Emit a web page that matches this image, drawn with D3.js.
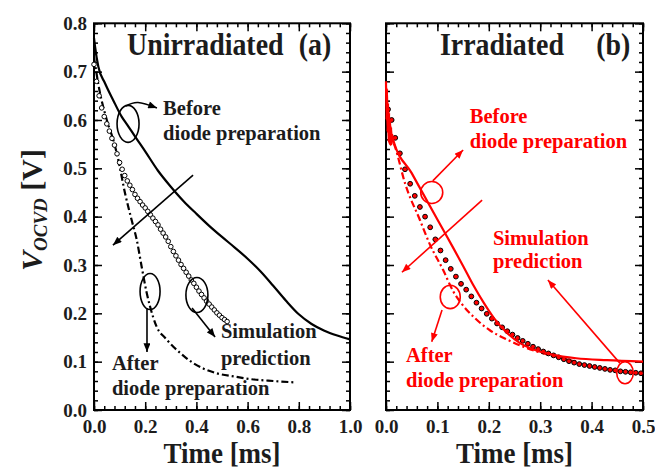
<!DOCTYPE html>
<html>
<head>
<meta charset="utf-8">
<script src="https://cdn.jsdelivr.net/npm/d3@7"></script>
<style>
  body { margin: 0; background: #fff; }
  text { font-family: "Liberation Serif", "Times New Roman", serif; font-weight: bold; }
</style>
</head>
<body>
<svg id="chart" width="655" height="470"></svg>
<script>
// ---------- data: panel (a), unirradiated ----------
const beforeA = [[0,0.77],[0.004,0.752],[0.017,0.71],[0.043,0.676],[0.075,0.641],[0.108,0.607],
  [0.13,0.59],[0.16,0.566],[0.2,0.535],[0.25,0.495],[0.3,0.462],[0.35,0.432],[0.4,0.406],
  [0.45,0.381],[0.5,0.358],[0.55,0.336],[0.6,0.313],[0.65,0.287],[0.7,0.257],[0.75,0.226],
  [0.8,0.198],[0.85,0.178],[0.9,0.164],[0.95,0.154],[1.0,0.146]];

const afterA = [[0,0.73],[0.02,0.665],[0.05,0.6],[0.08,0.55],[0.095,0.517],[0.121,0.449],
  [0.147,0.393],[0.167,0.352],[0.186,0.297],[0.206,0.242],[0.219,0.214],[0.245,0.172],
  [0.28,0.148],[0.31,0.131],[0.35,0.112],[0.388,0.097],[0.43,0.085],[0.479,0.076],
  [0.55,0.069],[0.61,0.064],[0.7,0.06],[0.79,0.057]];

const simA_t = [0.00,0.01,0.02,0.03,0.04,0.05,0.06,0.07,0.08,0.09,0.10,0.11,0.12,0.13,0.14,
  0.15,0.16,0.17,0.18,0.19,0.20,0.21,0.22,0.23,0.24,0.25,0.26,0.27,0.28,0.29,0.30,0.31,0.32,
  0.33,0.34,0.35,0.36,0.37,0.38,0.39,0.40,0.41,0.42,0.43,0.44,0.45,0.46,0.47,0.48,0.49,0.50,
  0.51,0.52];
const simA_v = [0.715,0.68,0.65,0.625,0.607,0.592,0.577,0.562,0.548,0.530,0.512,0.498,0.485,
  0.474,0.465,0.456,0.446,0.438,0.431,0.424,0.418,0.411,0.404,0.397,0.390,0.383,0.374,0.366,
  0.358,0.349,0.338,0.328,0.319,0.310,0.301,0.293,0.285,0.277,0.269,0.262,0.254,0.246,0.239,
  0.232,0.225,0.219,0.213,0.207,0.201,0.196,0.191,0.187,0.183];

// ---------- data: panel (b), irradiated ----------
const beforeB = [[0,0.68],[0.001,0.60],[0.002,0.665],[0.003,0.575],[0.004,0.635],[0.005,0.555],
  [0.006,0.615],[0.007,0.55],[0.008,0.60],[0.009,0.548],[0.010,0.585],[0.011,0.55],[0.012,0.57],
  [0.014,0.559],[0.05,0.49],[0.1,0.394],[0.13,0.337],[0.15,0.298],[0.17,0.258],[0.19,0.222],
  [0.21,0.19],[0.235,0.16],[0.26,0.139],[0.29,0.124],[0.325,0.114],[0.37,0.107],[0.43,0.103],
  [0.5,0.100]];

const afterB = [[0.004,0.58],[0.0175,0.545],[0.037,0.469],[0.066,0.393],[0.086,0.341],
  [0.111,0.29],[0.131,0.245],[0.147,0.22],[0.173,0.19],[0.202,0.165],[0.235,0.146],
  [0.267,0.131],[0.3,0.119],[0.335,0.109],[0.37,0.10]];

const simB_t = [0.004,0.011,0.018,0.027,0.037,0.047,0.056,0.066,0.076,0.086,0.096,0.106,0.116,
  0.126,0.136,0.146,0.156,0.166,0.176,0.186,0.196,0.206,0.216,0.226,0.236,0.246,0.256,0.266,
  0.276,0.286,0.296,0.306,0.316,0.326,0.336,0.346,0.356,0.366,0.376,0.386,0.396,0.406,0.416,
  0.426,0.436,0.446,0.456,0.466,0.476,0.486,0.496];
const simB_v = [0.622,0.60,0.563,0.531,0.498,0.468,0.443,0.420,0.400,0.378,0.353,0.330,0.310,
  0.292,0.276,0.261,0.249,0.235,0.222,0.210,0.199,0.189,0.179,0.171,0.163,0.156,0.149,0.143,
  0.137,0.131,0.126,0.121,0.117,0.113,0.109,0.105,0.101,0.098,0.095,0.093,0.091,0.089,0.087,
  0.085,0.083,0.082,0.080,0.079,0.078,0.077,0.076];

// ---------- axis ticks ----------
const yMajor = [0,0.1,0.2,0.3,0.4,0.5,0.6,0.7,0.8];
const yMinor = d3.range(0, 0.8001, 0.02);
const xMajorA = [0,0.2,0.4,0.6,0.8,1.0];
const xMinorA = d3.range(0, 1.0001, 0.04);
const xMajorB = [0,0.1,0.2,0.3,0.4,0.5];
const xMinorB = d3.range(0, 0.5001, 0.02);

// ---------- layout ----------
const svg = d3.select("#chart");
const plotTop = 23.3, plotBottom = 410;
const y = d3.scaleLinear().domain([0, 0.8]).range([plotBottom, plotTop]);
const xA = d3.scaleLinear().domain([0, 1]).range([94, 350]);
const xB = d3.scaleLinear().domain([0, 0.5]).range([386, 643]);
const RED = "#ff0000", INK = "#1c1c1c";

// arrowheads
const defs = svg.append("defs");
[["arrK", "#000"], ["arrR", RED]].forEach(([id, c]) => {
  defs.append("marker").attr("id", id).attr("viewBox", "0 0 10 8")
    .attr("refX", 10).attr("refY", 4).attr("markerWidth", 10).attr("markerHeight", 7)
    .attr("markerUnits", "userSpaceOnUse").attr("orient", "auto")
    .append("path").attr("d", "M0,0 L10,4 L0,8 Z").attr("fill", c);
});

// condensed heading text (titles and axis titles)
function heading(px, py, s, size, anchor) {
  return svg.append("text").attr("transform", `translate(${px},${py}) scale(0.9,1)`)
    .attr("text-anchor", anchor || "start").attr("font-size", size).attr("fill", INK).text(s);
}

function frame(x, xMajor, xMinor, showYLabels) {
  const g = svg.append("g");
  const x0 = x.range()[0], x1 = x.range()[1];
  const fmt = d3.format(".1f");
  const style = sel => {
    sel.select(".domain").remove();
    sel.selectAll("line").attr("stroke", "#000").attr("stroke-width", 1.5);
    sel.selectAll("text").attr("font-size", 19).attr("fill", INK)
      .attr("font-family", '"Liberation Serif", serif').attr("font-weight", "bold");
  };
  // bottom
  g.append("g").attr("transform", `translate(0,${plotBottom})`)
    .call(d3.axisBottom(x).tickValues(xMinor).tickSize(-4).tickFormat("")).call(style);
  g.append("g").attr("transform", `translate(0,${plotBottom})`)
    .call(d3.axisBottom(x).tickValues(xMajor).tickSize(-8).tickPadding(9.5).tickFormat(fmt)).call(style);
  // top
  g.append("g").attr("transform", `translate(0,${plotTop})`)
    .call(d3.axisTop(x).tickValues(xMinor).tickSize(-4).tickFormat("")).call(style);
  g.append("g").attr("transform", `translate(0,${plotTop})`)
    .call(d3.axisTop(x).tickValues(xMajor).tickSize(-8).tickFormat("")).call(style);
  // left
  g.append("g").attr("transform", `translate(${x0},0)`)
    .call(d3.axisLeft(y).tickValues(yMinor).tickSize(-4).tickFormat("")).call(style);
  g.append("g").attr("transform", `translate(${x0},0)`)
    .call(d3.axisLeft(y).tickValues(yMajor).tickSize(-8).tickPadding(7)
      .tickFormat(showYLabels ? fmt : "")).call(style);
  // right
  g.append("g").attr("transform", `translate(${x1},0)`)
    .call(d3.axisRight(y).tickValues(yMinor).tickSize(-4).tickFormat("")).call(style);
  g.append("g").attr("transform", `translate(${x1},0)`)
    .call(d3.axisRight(y).tickValues(yMajor).tickSize(-8).tickFormat("")).call(style);
  g.append("rect").attr("x", x0).attr("y", plotTop).attr("width", x1 - x0).attr("height", plotBottom - plotTop)
    .attr("fill", "none").attr("stroke", "#000").attr("stroke-width", 2);
  // x title
  heading((x0 + x1) / 2, 463, "Time [ms]", 30, "middle");
}

function curve(x, data, color, width, dash) {
  svg.append("path").datum(data)
    .attr("d", d3.line().x(d => x(d[0])).y(d => y(d[1])).curve(d3.curveMonotoneX))
    .attr("fill", "none").attr("stroke", color).attr("stroke-width", width)
    .attr("stroke-dasharray", dash || null).attr("stroke-linejoin", "round");
}

function ellipse(x, t, v, rx, ry, color) {
  svg.append("ellipse").attr("cx", x(t)).attr("cy", y(v)).attr("rx", rx).attr("ry", ry)
    .attr("fill", "none").attr("stroke", color).attr("stroke-width", 1.6);
}

function arrow(x, pts, color, marker) {
  svg.append("path").datum(pts)
    .attr("d", d3.line().x(d => x(d[0])).y(d => y(d[1])).curve(d3.curveNatural))
    .attr("fill", "none").attr("stroke", color).attr("stroke-width", 1.6)
    .attr("marker-end", `url(#${marker})`);
}

function label(x, t, v, lines, color) {
  lines.forEach((s, i) => {
    svg.append("text").attr("x", x(t)).attr("y", y(v[i])).attr("font-size", 20.5)
      .attr("fill", color).text(s);
  });
}

// ---------- panel (a) ----------
frame(xA, xMajorA, xMinorA, true);
curve(xA, beforeA, "#000", 2.2);
curve(xA, afterA, "#000", 2.2, "7,3,2,3");
svg.append("g").selectAll("circle").data(simA_t).join("circle")
  .attr("cx", d => xA(d)).attr("cy", (d, i) => y(simA_v[i])).attr("r", 2.3)
  .attr("fill", "#fff").attr("stroke", "#000").attr("stroke-width", 1);

heading(xA(0.129), y(0.734), "Unirradiated", 31);
heading(xA(0.80), y(0.734), "(a)", 31);

ellipse(xA, 0.133, 0.592, 11, 18.5, "#000");
arrow(xA, [[0.125,0.629],[0.172,0.636],[0.246,0.625]], "#000", "arrK");
label(xA, 0.27, [0.610, 0.559], ["Before", "diode preparation"], INK);
arrow(xA, [[0.387,0.486],[0.074,0.341]], "#000", "arrK");
ellipse(xA, 0.219, 0.245, 10, 18, "#000");
arrow(xA, [[0.207,0.211],[0.207,0.12]], "#000", "arrK");
label(xA, 0.070, [0.083, 0.031], ["After", "diode preparation"], INK);
ellipse(xA, 0.402, 0.238, 11, 17.5, "#000");
arrow(xA, [[0.383,0.211],[0.473,0.151]], "#000", "arrK");
label(xA, 0.496, [0.149, 0.093], ["Simulation", "prediction"], INK);

// ---------- panel (b) ----------
frame(xB, xMajorB, xMinorB, false);
curve(xB, afterB, RED, 2.2, "7,3,2,3");
svg.append("g").selectAll("circle").data(simB_t).join("circle")
  .attr("cx", d => xB(d)).attr("cy", (d, i) => y(simB_v[i])).attr("r", 2.4)
  .attr("fill", RED).attr("stroke", "#000").attr("stroke-width", 1);
curve(xB, beforeB, RED, 2.2);

heading(xB(0.105), y(0.734), "Irradiated", 31);
heading(xB(0.409), y(0.734), "(b)", 31);

ellipse(xB, 0.089, 0.450, 11, 11, RED);
arrow(xB, [[0.091,0.474],[0.150,0.538]], RED, "arrR");
label(xB, 0.163, [0.594, 0.542], ["Before", "diode preparation"], RED);
arrow(xB, [[0.187,0.434],[0.031,0.285]], RED, "arrR");
label(xB, 0.208, [0.341, 0.294], ["Simulation", "prediction"], RED);
ellipse(xB, 0.465, 0.077, 8.3, 11, RED);
arrow(xB, [[0.455,0.097],[0.315,0.269]], RED, "arrR");
ellipse(xB, 0.125, 0.234, 10, 11.7, RED);
arrow(xB, [[0.109,0.207],[0.089,0.141]], RED, "arrR");
label(xB, 0.039, [0.099, 0.048], ["After", "diode preparation"], RED);

// ---------- y-axis title ----------
const yt = svg.append("text").attr("transform", "translate(42,210) rotate(-90)")
  .attr("text-anchor", "middle").attr("fill", INK).attr("font-size", 30);
yt.append("tspan").attr("font-style", "italic").text("V");
yt.append("tspan").attr("font-style", "italic").attr("font-size", 19).attr("dy", 5).text("OCVD");
yt.append("tspan").attr("dy", -5).text(" [V]");
</script>
</body>
</html>
